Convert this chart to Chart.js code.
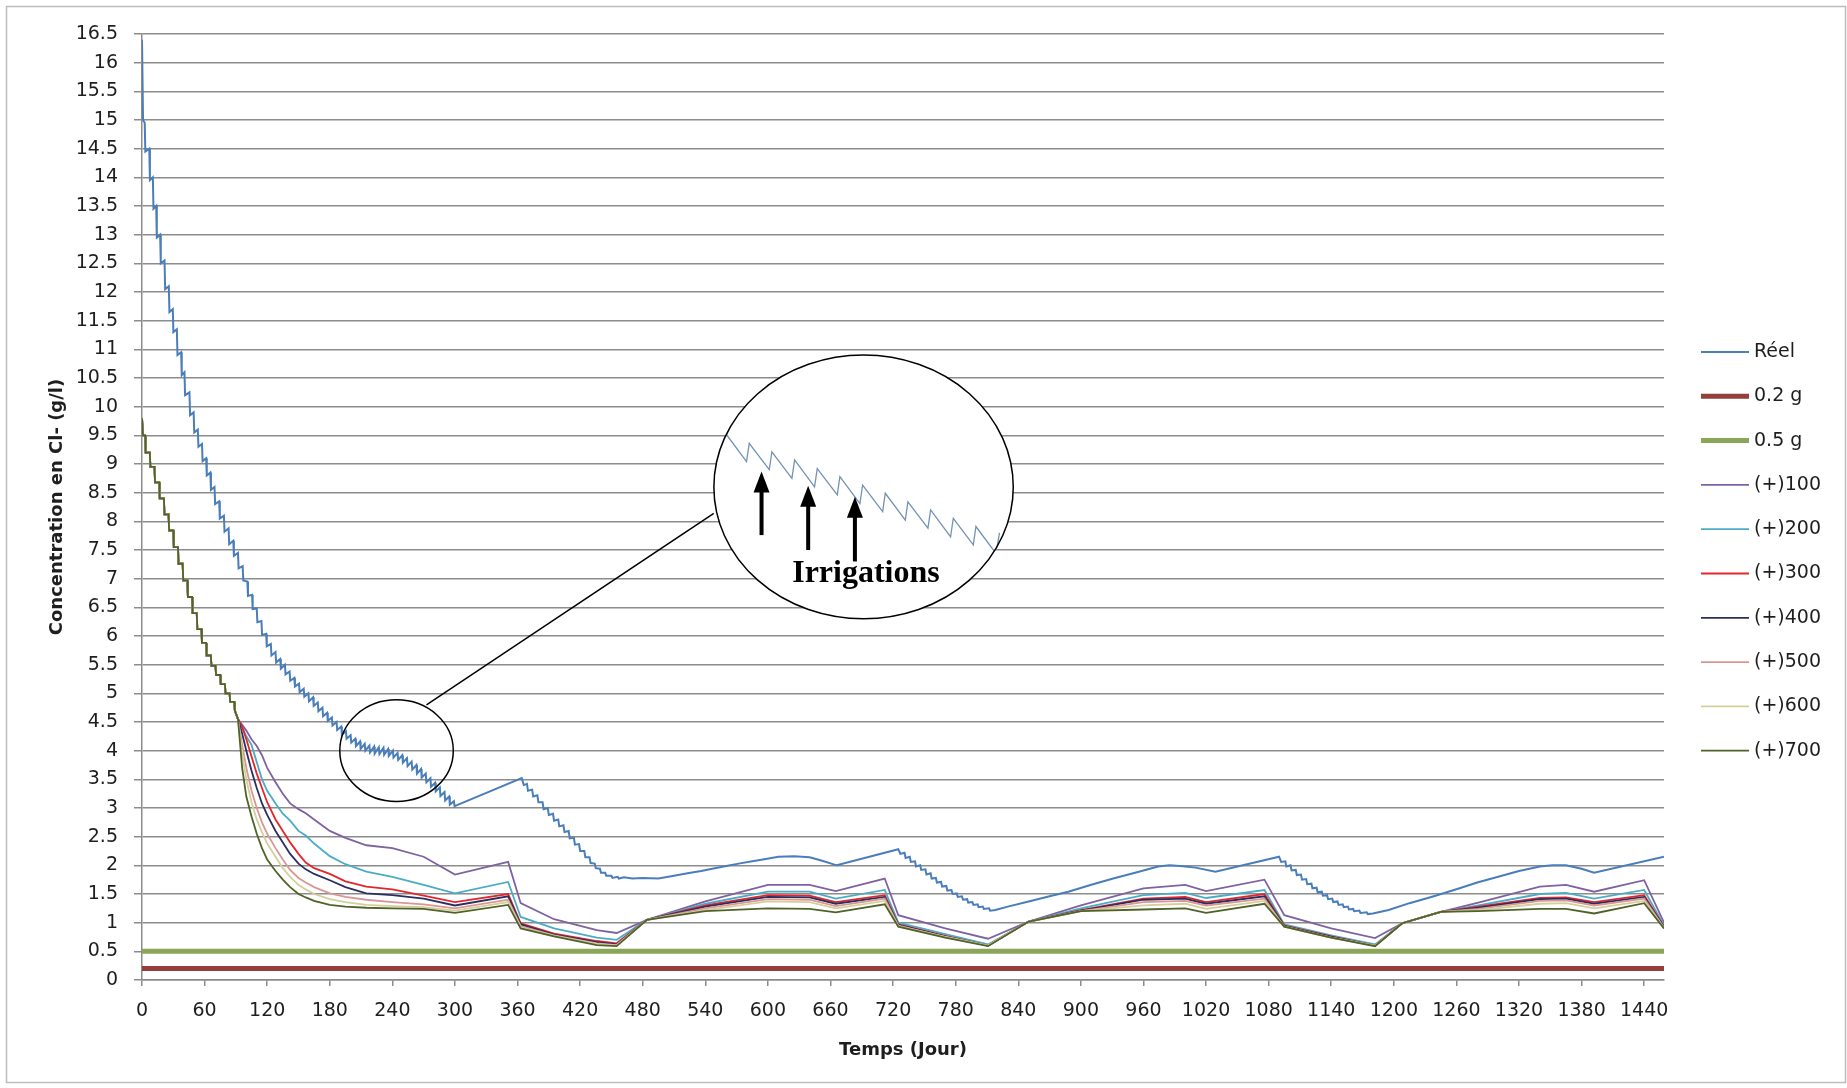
<!DOCTYPE html>
<html>
<head>
<meta charset="utf-8">
<script src="https://cdn.jsdelivr.net/npm/chart.js@4.4.0/dist/chart.umd.min.js"></script>
<style>
  html, body { margin: 0; padding: 0; background: #fff; }
  canvas { display: block; }
</style>
</head>
<body>
<canvas id="graphe" width="1847" height="1088"></canvas>
<script>
// Réel: [jour, concentration]
const reel = [
  [0,16.4],[1,15.0],[2.6,14.95],[3.2,14.45],[7.0,14.5],[7.6,13.95],[10.4,14.0],[11,13.45],[13.6,13.5],[14.2,12.95],
  [17.4,13.0],[18,12.5],[21.6,12.55],[22.2,12.05],[25.7,12.1],[26.3,11.65],[29.5,11.7],[30.1,11.3],[33.4,11.35],[34,10.9],
  [37.5,10.95],[38.1,10.55],[40.7,10.6],[41.3,10.2],[45.5,10.25],[46.1,9.85],[49.5,9.9],[50.1,9.55],[53.5,9.6],[54.1,9.3],
  [57.5,9.35],[58.1,9.05],[61.5,9.1],[62.1,8.8],[65.5,8.85],[66.1,8.55],[69.5,8.6],[70.1,8.3],[74,8.35],[74.6,8.05],
  [78.5,8.1],[79.1,7.82],[83,7.88],[83.6,7.6],[87.5,7.66],[88.1,7.4],[92,7.45],[92.6,7.18],[96.5,7.22],[97.1,6.97],
  [101,6.95],[101.6,6.7],[105.5,6.72],[106.1,6.47],[110,6.48],[110.6,6.24],[114.5,6.26],[115.1,6.02],[119,6.04],[119.6,5.82],
  [123.5,5.86],[124.1,5.66],[128,5.72],[128.6,5.54],[132.5,5.6],[133.1,5.43],[137,5.5],[137.6,5.33],[141.5,5.38],[142.1,5.22],
  [146,5.27],[146.6,5.12],[150.5,5.17],[151.1,5.02],[155,5.08],[155.6,4.94],[159.5,5.0],[160.1,4.86],[164,4.93],[164.6,4.78],
  [168.5,4.84],[169.1,4.69],[173,4.75],[173.6,4.6],[177.5,4.66],[178.1,4.52],[182,4.58],[182.6,4.44],[186.5,4.5],[187.1,4.36],
  [191,4.42],[191.6,4.28],[195.5,4.34],[196.1,4.21],[200,4.27],[200.6,4.14],[204.5,4.21],[205.1,4.08],[209,4.16],[209.6,4.03],
  [213.5,4.12],[214.1,4.0],[218,4.09],[218.6,3.97],[222.5,4.07],[223.1,3.95],[227,4.06],[227.6,3.94],[231.5,4.05],[232.1,3.93],
  [236,4.03],[236.6,3.91],[240.5,4.0],[241.1,3.88],[245,3.96],[245.6,3.84],[249.5,3.92],[250.1,3.79],[254,3.87],[254.6,3.73],
  [258.5,3.81],[259.1,3.67],[263,3.75],[263.6,3.6],[267.5,3.68],[268.1,3.53],[272,3.6],[272.6,3.45],[276.5,3.52],[277.1,3.37],
  [281,3.44],[281.6,3.29],[285.5,3.36],[286.1,3.21],[290,3.28],[290.6,3.13],[294.5,3.2],[295.1,3.06],[299,3.12],[299.6,3.03],
  [302,3.05],[364,3.52],
  [366,3.4],[369,3.42],[370,3.3],[374,3.32],[375,3.2],[379,3.22],[380,3.1],[384,3.1],[385,2.98],[389,3.0],
  [390,2.88],[394,2.9],[395,2.78],[399,2.8],[400,2.68],[404,2.7],[405,2.58],[409,2.6],[410,2.47],[414,2.48],
  [415,2.36],[419,2.37],[420,2.25],[424,2.25],[425,2.14],[429,2.14],[430,2.04],[434,2.03],[435,1.95],[439,1.94],
  [440,1.87],[444,1.87],[445,1.82],[450,1.82],[451,1.78],[456,1.8],[457,1.77],
  [462,1.79],[470,1.77],[480,1.78],[495,1.77],[510,1.82],[523,1.86],[536,1.9],[549,1.95],[560,1.99],[572,2.03],
  [585,2.07],[598,2.11],[610,2.15],[625,2.16],[640,2.14],[652,2.08],[666,2.0],[725,2.28],
  [727,2.2],[731,2.22],[732,2.13],[736,2.15],[737,2.06],[741,2.07],[742,1.98],[746,2.0],[747,1.92],[751,1.93],
  [752,1.84],[756,1.86],[757,1.77],[761,1.78],[762,1.7],[766,1.71],[767,1.63],[771,1.64],[772,1.56],[776,1.57],
  [777,1.5],[781,1.51],[782,1.45],[786,1.46],[787,1.4],[791,1.41],[792,1.35],[796,1.36],[797,1.31],[801,1.32],
  [802,1.27],[806,1.28],[807,1.24],[812,1.25],[813,1.21],[818,1.22],
  [830,1.28],[850,1.37],[870,1.46],[888,1.54],[910,1.66],[931,1.77],[952,1.87],[974,1.98],[985,2.0],[995,1.99],
  [1010,1.96],[1029,1.89],[1090,2.15],
  [1092,2.06],[1096,2.07],[1097,1.98],[1101,2.0],[1102,1.91],[1106,1.92],[1107,1.83],[1111,1.84],[1112,1.75],[1116,1.76],
  [1117,1.67],[1121,1.68],[1122,1.6],[1126,1.61],[1127,1.53],[1131,1.54],[1132,1.47],[1136,1.48],[1137,1.41],[1141,1.42],
  [1142,1.36],[1146,1.37],[1147,1.31],[1151,1.32],[1152,1.27],[1156,1.28],[1157,1.23],[1161,1.24],[1162,1.2],[1167,1.21],
  [1168,1.17],[1174,1.18],[1175,1.15],[1180,1.16],
  [1195,1.22],[1215,1.34],[1240,1.47],[1263,1.6],[1280,1.7],[1300,1.8],[1320,1.9],[1340,1.98],[1352,2.0],[1365,2.0],
  [1380,1.94],[1392,1.87],[1459,2.15]
];

// seuils constants (g)
const dose02 = 0.2;
const dose05 = 0.5;
const finJours = 1459;

// début commun à tous les scénarios (+)100 ... (+)700
const debutCommun = [
  [0,9.8],[1,9.5],[3,9.5],[3.5,9.2],[7.5,9.2],[8,8.95],[12,8.95],[12.5,8.68],[16.5,8.68],[17,8.4],
  [21,8.4],[21.5,8.12],[25.5,8.12],[26,7.84],[30,7.84],[30.5,7.55],[34.5,7.55],[35,7.26],[39,7.26],[39.5,6.97],
  [43.5,6.97],[44,6.68],[48,6.68],[48.5,6.4],[52.5,6.4],[53,6.12],[57,6.12],[57.5,5.88],[61.5,5.88],[62,5.66],
  [66,5.66],[66.5,5.48],[70.5,5.48],[71,5.32],[75,5.32],[75.5,5.16],[79.5,5.16],[80,5.0],[84,5.0],[84.5,4.85],
  [88.5,4.85],[89,4.7]
];

const joursSuite = [92,96,100,105,110,115,120,128,135,142,150,157,165,180,195,215,240,270,300,351,
  363,395,436,455,484,540,600,640,665,712,725,770,811,850,900,960,1000,1020,1076,1095,
  1140,1182,1208,1245,1281,1340,1365,1392,1440,1459];

const plus100 = [4.55,4.45,4.35,4.2,4.08,3.92,3.7,3.45,3.25,3.08,2.98,2.91,2.8,2.6,2.48,2.35,2.3,2.15,1.84,2.06,
  1.34,1.06,0.87,0.82,1.05,1.37,1.66,1.66,1.55,1.77,1.13,0.9,0.72,1.02,1.3,1.6,1.66,1.55,1.75,1.13,
  0.9,0.73,0.99,1.19,1.35,1.63,1.66,1.54,1.74,1.0];
const plus200 = [4.55,4.4,4.25,4.1,3.8,3.5,3.3,3.08,2.9,2.78,2.6,2.52,2.38,2.16,2.02,1.89,1.8,1.66,1.51,1.71,
  1.1,0.9,0.74,0.7,1.05,1.33,1.54,1.54,1.42,1.57,1.0,0.8,0.62,1.02,1.25,1.48,1.52,1.43,1.57,0.97,
  0.78,0.62,0.99,1.19,1.3,1.5,1.52,1.42,1.57,0.95];
const plus300 = [4.55,4.42,4.2,3.9,3.6,3.35,3.1,2.8,2.6,2.4,2.2,2.05,1.95,1.85,1.72,1.63,1.58,1.47,1.36,1.5,
  0.99,0.81,0.68,0.64,1.05,1.3,1.48,1.47,1.36,1.48,0.97,0.77,0.6,1.02,1.22,1.42,1.45,1.36,1.5,0.95,
  0.76,0.6,0.99,1.19,1.28,1.43,1.44,1.36,1.48,0.93];
const plus400 = [4.55,4.3,4.0,3.65,3.35,3.08,2.88,2.6,2.4,2.2,2.03,1.93,1.85,1.74,1.62,1.51,1.48,1.42,1.3,1.46,
  0.97,0.79,0.66,0.62,1.05,1.28,1.45,1.44,1.33,1.45,0.96,0.76,0.6,1.02,1.21,1.4,1.42,1.33,1.46,0.94,
  0.75,0.6,0.99,1.19,1.26,1.41,1.42,1.33,1.45,0.92];
const plus500 = [4.55,4.1,3.7,3.3,3.0,2.75,2.55,2.3,2.1,1.92,1.78,1.7,1.62,1.51,1.45,1.4,1.36,1.32,1.25,1.4,
  0.94,0.78,0.64,0.61,1.05,1.25,1.41,1.4,1.29,1.42,0.95,0.75,0.6,1.02,1.2,1.36,1.38,1.3,1.42,0.93,
  0.74,0.6,0.99,1.19,1.24,1.38,1.39,1.3,1.42,0.91];
const plus600 = [4.55,3.95,3.5,3.1,2.8,2.58,2.38,2.15,1.95,1.8,1.66,1.58,1.5,1.41,1.36,1.31,1.29,1.27,1.21,1.36,
  0.92,0.77,0.63,0.6,1.05,1.22,1.37,1.36,1.25,1.38,0.94,0.75,0.6,1.02,1.2,1.3,1.33,1.24,1.38,0.93,
  0.74,0.6,0.99,1.19,1.22,1.33,1.34,1.25,1.38,0.9];
const plus700 = [4.55,3.7,3.2,2.85,2.55,2.3,2.1,1.9,1.75,1.62,1.5,1.44,1.38,1.31,1.28,1.26,1.25,1.24,1.17,1.31,
  0.9,0.76,0.61,0.59,1.05,1.2,1.25,1.24,1.18,1.32,0.93,0.74,0.59,1.02,1.2,1.23,1.25,1.17,1.33,0.93,
  0.74,0.59,0.99,1.19,1.2,1.24,1.24,1.16,1.34,0.9];

// zoom de l'encart (jour, concentration)
const dentsEncart = [
  [560.4,9.51],[579.5,9.04],[582.1,9.36],[601.3,8.9],[603.8,9.21],[623,8.75],[625.6,9.07],[644.7,8.6],
  [647.3,8.92],[666.5,8.46],[669,8.78],[688.2,8.31],[690.8,8.63],[710,8.17],[712.5,8.49],[731.7,8.02],
  [734.2,8.34],[753.4,7.88],[756,8.2],[775.1,7.73],[777.7,8.05],[796.9,7.59],[799.4,7.91],[818.6,7.44],[822,7.8]
];

const enPoints = arr => arr.map(([x, y]) => ({x, y}));
const scenario = vals => enPoints(debutCommun).concat(joursSuite.map((d, i) => ({x: d, y: vals[i]})));
const constante = v => [{x: 0, y: v}, {x: finJours, y: v}];

function serie(label, data, color, width, ordre) {
  return {label, data, borderColor: color, backgroundColor: color, borderWidth: width,
    pointRadius: 0, tension: 0, fill: false, order: ordre};
}

const datasets = [
  serie('Réel', enPoints(reel), '#4a7ebb', 2, 20),
  serie('0.2 g', constante(dose02), '#953f3b', 5, 19),
  serie('0.5 g', constante(dose05), '#8aa659', 5, 18),
  serie('(+)100', scenario(plus100), '#7e62a1', 1.8, 17),
  serie('(+)200', scenario(plus200), '#4aacc5', 1.8, 16),
  serie('(+)300', scenario(plus300), '#e3262d', 1.8, 15),
  serie('(+)400', scenario(plus400), '#2b2f5e', 1.8, 14),
  serie('(+)500', scenario(plus500), '#d99694', 1.8, 13),
  serie('(+)600', scenario(plus600), '#d4cf9a', 1.8, 12),
  serie('(+)700', scenario(plus700), '#4f6228', 1.8, 11)
];

// cadre + fond
const cadre = {
  id: 'cadre',
  beforeDraw(chart) {
    const ctx = chart.ctx;
    ctx.save();
    ctx.fillStyle = '#fff';
    ctx.fillRect(0, 0, chart.width, chart.height);
    ctx.strokeStyle = '#bdbdbd';
    ctx.lineWidth = 1.5;
    ctx.strokeRect(6.5, 6.5, 1839, 1076);
    ctx.restore();
  }
};

// loupe "Irrigations"
const encart = {
  id: 'encart',
  afterDatasetsDraw(chart) {
    const {ctx, scales: {x, y}} = chart;
    const px = v => x.getPixelForValue(v), py = v => y.getPixelForValue(v);
    const ellipse = (cx, cy, rx, ry) => {
      ctx.beginPath();
      ctx.ellipse(px(cx), py(cy), px(cx + rx) - px(cx), py(cy) - py(cy + ry), 0, 0, Math.PI * 2);
    };
    ctx.save();
    ctx.strokeStyle = '#000';
    ctx.lineWidth = 1.5;
    ellipse(244, 4.0, 54.4, 0.886);
    ctx.stroke();
    ctx.beginPath();
    ctx.moveTo(px(272.7), py(4.8));
    ctx.lineTo(px(548.1), py(8.14));
    ctx.stroke();

    ellipse(691.7, 8.6, 143.5, 2.3);
    ctx.fillStyle = '#fff';
    ctx.fill();

    ctx.save();
    ellipse(691.7, 8.6, 143.5, 2.3);
    ctx.clip();
    ctx.beginPath();
    dentsEncart.forEach(([d, v], i) => i ? ctx.lineTo(px(d), py(v)) : ctx.moveTo(px(d), py(v)));
    ctx.strokeStyle = '#7393b5';
    ctx.lineWidth = 1.3;
    ctx.stroke();
    ctx.restore();

    ellipse(691.7, 8.6, 143.5, 2.3);
    ctx.stroke();

    ctx.fillStyle = '#000';
    [[593.9, 7.76, 8.87], [638.6, 7.5, 8.62], [683.4, 7.3, 8.43]].forEach(([d, bas, pointe]) => {
      const X = px(d), yb = py(bas), yt = py(pointe);
      ctx.fillRect(X - 2, yt + 18, 4, yb - yt - 18);
      ctx.beginPath();
      ctx.moveTo(X, yt);
      ctx.lineTo(X - 8, yt + 21);
      ctx.lineTo(X + 8, yt + 21);
      ctx.closePath();
      ctx.fill();
    });

    ctx.font = 'bold 32px "Liberation Serif"';
    ctx.textAlign = 'center';
    ctx.textBaseline = 'alphabetic';
    ctx.fillText('Irrigations', px(694), py(6.95));
    ctx.restore();
  }
};

// légende à droite
const legende = {
  id: 'legende',
  afterDraw(chart) {
    const ctx = chart.ctx;
    ctx.save();
    ctx.font = '19px "DejaVu Sans"';
    ctx.textBaseline = 'middle';
    chart.data.datasets.forEach((ds, i) => {
      const yy = 352 + i * 44.3;
      ctx.strokeStyle = ds.borderColor;
      ctx.lineWidth = ds.borderWidth;
      ctx.beginPath();
      ctx.moveTo(1701, yy);
      ctx.lineTo(1749, yy);
      ctx.stroke();
      ctx.fillStyle = '#1e1e1e';
      ctx.fillText(ds.label, 1754, yy);
    });
    ctx.restore();
  }
};

Chart.defaults.font.family = '"DejaVu Sans", sans-serif';
Chart.defaults.color = '#1e1e1e';

new Chart(document.getElementById('graphe'), {
  type: 'line',
  data: {datasets},
  options: {
    responsive: false,
    devicePixelRatio: 1,
    animation: false,
    layout: {padding: {top: 34, right: 183, bottom: 0, left: 0}},
    plugins: {legend: {display: false}, tooltip: {enabled: false}},
    scales: {
      x: {
        type: 'linear', min: 0, max: finJours,
        afterBuildTicks: s => { s.ticks = s.ticks.filter(t => t.value % 60 === 0); },
        afterFit: s => { s.height = 108; },
        ticks: {stepSize: 60, includeBounds: false, autoSkip: false, maxRotation: 0, padding: 14,
          font: {size: 19}, callback: v => String(v)},
        grid: {drawOnChartArea: false, drawTicks: true, tickLength: 6, color: '#8c8c8c', lineWidth: 1.5},
        border: {color: '#8c8c8c', width: 1.5},
        title: {display: true, text: 'Temps (Jour)', font: {size: 18, weight: 'bold'}, padding: {top: 0, bottom: 27}}
      },
      y: {
        min: 0, max: 16.5,
        afterFit: s => { s.width = 142; },
        ticks: {stepSize: 0.5, padding: 16, font: {size: 19}, callback: v => String(v)},
        grid: {color: '#8c8c8c', lineWidth: 1.5, tickLength: 8},
        border: {color: '#8c8c8c', width: 1.5},
        title: {display: true, text: 'Concentration en Cl- (g/l)', font: {size: 18, weight: 'bold'}, padding: {top: 47, bottom: 0}}
      }
    }
  },
  plugins: [cadre, encart, legende]
});
</script>
</body>
</html>
